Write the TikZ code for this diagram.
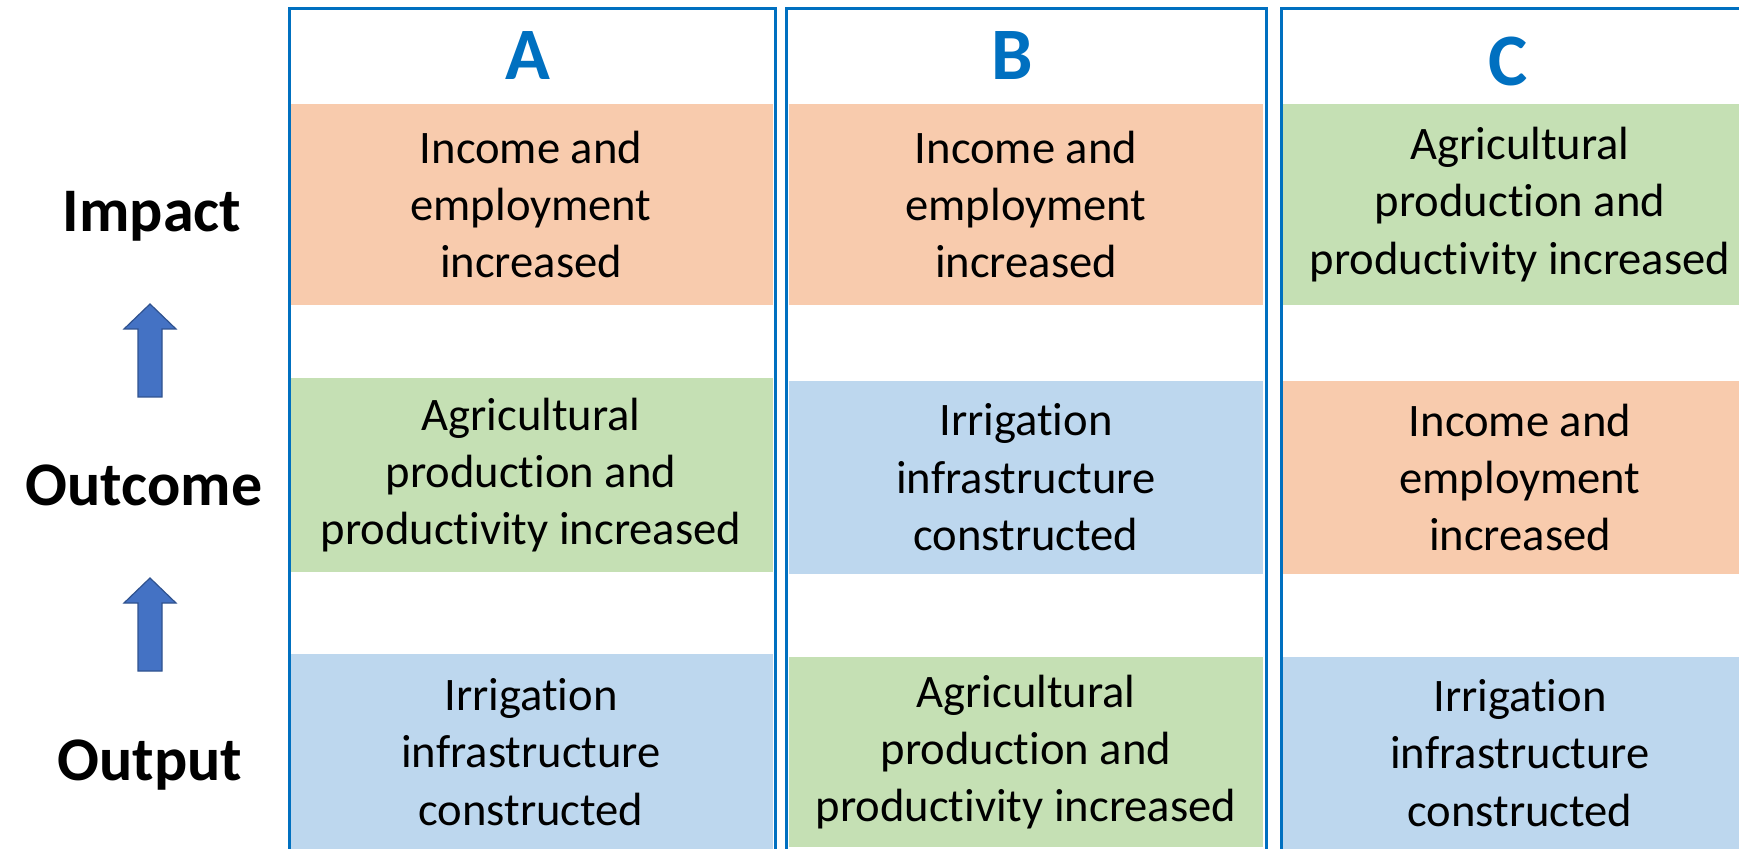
\documentclass[tikz,border=0pt]{standalone}
\usepackage{fontspec}
\setmainfont{Carlito}[RawFeature={-liga}]
\definecolor{frameblue}{HTML}{0070C0}
\definecolor{impactfill}{HTML}{F8CBAD}
\definecolor{outcomefill}{HTML}{C5E0B4}
\definecolor{outputfill}{HTML}{BDD7EE}
\definecolor{arrowfill}{HTML}{4472C4}
\definecolor{arrowline}{HTML}{2F528F}
\begin{document}
\begin{tikzpicture}[x=0.5pt,y=-0.5pt,
  colframe/.style={draw=frameblue, line width=1.3pt, inner sep=0pt, anchor=north west},
  cell/.style={inner sep=0pt, outer sep=0pt, anchor=north, align=center,
    font=\fontsize{23.3}{28.7}\selectfont},
  head/.style={anchor=base, text=frameblue, font=\fontsize{37}{40}\selectfont\bfseries},
  level/.style={anchor=base, font=\fontsize{31}{34}\selectfont\bfseries},
  blockarrow/.style={fill=arrowfill, draw=arrowline, line width=0.6pt, line join=miter}]
\useasboundingbox (0,0) rectangle (1739,849);
\clip (0,0) rectangle (1739,849);

% level labels on the left
\node[level] (impact)  at (152,232) {Impact};
\node[level] (outcome) at (144,506) {Outcome};
\node[level] (output)  at (150,780) {Output};

% block arrows pointing upward between the levels
\coordinate (tipA) at (150,304);
\coordinate (tipB) at (150,578);
\foreach \t in {tipA,tipB}
  \draw[blockarrow] (\t) -- ++(26,25) -- ++(-14,0) -- ++(0,68) -- ++(-24,0)
    -- ++(0,-68) -- ++(-14,0) -- cycle;

% column A
\node[cell, fill=impactfill,  minimum width=242pt, minimum height=100.5pt] (a1) at (531,104)
  {Income and\\employment\\increased};
\node[cell, fill=outcomefill, minimum width=242pt, minimum height=97pt] (a2) at (531,378)
  {Agricultural\\production and\\productivity increased};
\node[cell, fill=outputfill,  minimum width=242pt, minimum height=98pt] (a3) at (531,654)
  {Irrigation\\infrastructure\\constructed};

% column B
\node[cell, fill=impactfill,  minimum width=237pt, minimum height=100.5pt] (b1) at (1026,104)
  {Income and\\employment\\increased};
\node[cell, fill=outputfill,  minimum width=237pt, minimum height=96.5pt] (b2) at (1026,381)
  {Irrigation\\infrastructure\\constructed};
\node[cell, fill=outcomefill, minimum width=237pt, minimum height=95pt] (b3) at (1026,657)
  {Agricultural\\production and\\productivity increased};

% column C
\node[cell, fill=outcomefill, minimum width=239pt, minimum height=100.5pt] (c1) at (1520,104)
  {Agricultural\\production and\\productivity increased};
\node[cell, fill=impactfill,  minimum width=239pt, minimum height=96.5pt] (c2) at (1520,381)
  {Income and\\employment\\increased};
\node[cell, fill=outputfill,  minimum width=239pt, minimum height=96pt] (c3) at (1520,657)
  {Irrigation\\infrastructure\\constructed};

% column frames
\node[colframe, minimum width=243pt, minimum height=430pt] (colA) at (288,7) {};
\node[colframe, minimum width=240pt, minimum height=430pt] (colB) at (785,7) {};
\node[colframe, minimum width=240pt, minimum height=430pt] (colC) at (1280,7) {};

% column headings
\node[head] (hA) at (528,80) {A};
\node[head] (hB) at (1012,80) {B};
\node[head] (hC) at (1508,86) {C};
\end{tikzpicture}
\end{document}
